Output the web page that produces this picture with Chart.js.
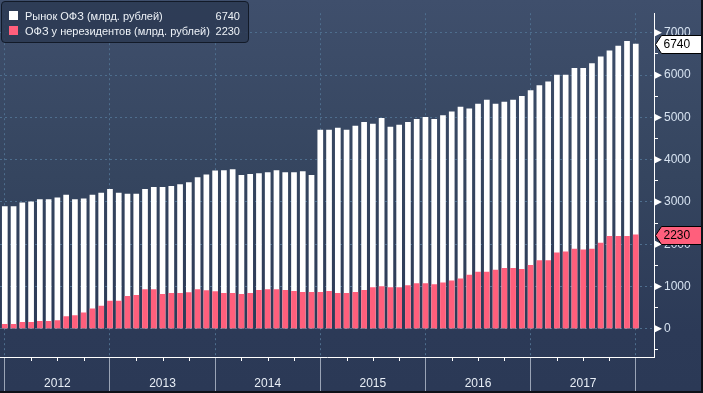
<!DOCTYPE html>
<html>
<head>
<meta charset="utf-8">
<script src="https://cdn.jsdelivr.net/npm/chart.js@4/dist/chart.umd.min.js"></script>
<style>
  html, body { margin: 0; padding: 0; background: #0e1118; }
  #wrap {
    position: relative; width: 701px; height: 391px;
    background: linear-gradient(to bottom, #3f4f6c 0%, #35455f 45%, #2c3a57 85%, #2b3956 100%);
  }
  #legend {
    position: absolute; left: 1px; top: 1px; width: 246px; height: 40px;
    border: 1px solid #121a28; border-radius: 4px;
    background: rgba(44, 57, 82, 0.85);
    font: 11px "Liberation Sans", Arial, sans-serif; color: #eef2f7;
  }
  .row { position: absolute; left: 0; right: 0; height: 14px; line-height: 14px; }
  .sw { position: absolute; left: 7px; top: 2px; width: 9px; height: 9px; }
  .lbl { position: absolute; left: 23px; }
  .val { position: absolute; right: 8px; }
</style>
</head>
<body>
<div id="wrap">
  <canvas id="chart" width="701" height="391"></canvas>
  <div id="legend"></div>
</div>
<script>
// --- Données ---
const seriesNames = ['Рынок ОФЗ (млрд. рублей)', 'ОФЗ у нерезидентов (млрд. рублей)'];
const seriesColors = ['#ffffff', '#ff5f7c'];
const years = ['2012', '2013', '2014', '2015', '2016', '2017'];

// fin de mois, déc. 2011 -> déc. 2017
const total = [
  2897, 2897, 2989, 3011, 3065, 3065, 3103, 3171, 3065, 3080, 3171, 3217,
  3308, 3217, 3194, 3194, 3308, 3354, 3354, 3376, 3422, 3468, 3582, 3650,
  3745, 3750, 3773, 3636, 3659, 3681, 3704, 3750, 3704, 3704, 3727, 3636,
  4710, 4710, 4756, 4710, 4802, 4893, 4848, 4985, 4779, 4825, 4893, 4962,
  5008, 4960, 5050, 5141, 5255, 5210, 5324, 5415, 5324, 5369, 5415, 5506,
  5644, 5758, 5849, 6009, 6009, 6169, 6169, 6283, 6443, 6580, 6694, 6809,
  6740
];
const nonres = [
  114, 114, 160, 160, 183, 183, 205, 297, 319, 388, 479, 548,
  662, 662, 776, 798, 935, 935, 821, 844, 844, 867, 935, 913,
  890, 846, 846, 823, 846, 915, 938, 938, 915, 892, 869, 869,
  869, 892, 846, 846, 869, 915, 983, 1006, 983, 983, 1029, 1075,
  1075, 1052, 1097, 1142, 1188, 1280, 1348, 1348, 1394, 1439, 1439, 1417,
  1508, 1622, 1622, 1805, 1828, 1896, 1874, 1896, 2034, 2193, 2193, 2193,
  2230
];

const yTicks = [-500, 0, 500, 1000, 1500, 2000, 2500, 3000, 3500, 4000, 4500, 5000, 5500, 6000, 6500, 7000];

const FONT = '"Liberation Sans", Arial, sans-serif';
const gridColor = '#4e6e8e';

// --- Légende ---
const legend = document.getElementById('legend');
[total, nonres].forEach((arr, i) => {
  const row = document.createElement('div');
  row.className = 'row';
  row.style.top = (7 + i * 15) + 'px';
  row.innerHTML = '<span class="sw" style="background:' + seriesColors[i] + '"></span>' +
    '<span class="lbl">' + seriesNames[i] + '</span>' +
    '<span class="val">' + arr[arr.length - 1] + '</span>';
  legend.appendChild(row);
});

// --- Décor : ticks trimestriels, flèches, étiquettes de dernière valeur ---
const decor = {
  id: 'decor',
  afterDraw(chart) {
    const { ctx, scales: { x, y } } = chart;
    ctx.save();
    ctx.strokeStyle = '#ffffff';
    ctx.lineWidth = 1;
    for (let i = 3; i < 72; i += 3) {
      if (i % 12 === 0) continue;
      const px = Math.round(x.getPixelForValue(i)) + 0.5;
      ctx.beginPath();
      ctx.moveTo(px, x.top);
      ctx.lineTo(px, x.top + 4);
      ctx.stroke();
    }
    ctx.fillStyle = '#ffffff';
    yTicks.filter(v => v % 1000 === 0).forEach(v => {
      const py = y.getPixelForValue(v);
      ctx.beginPath();
      ctx.moveTo(y.left + 1, py - 3.5);
      ctx.lineTo(y.left + 8, py);
      ctx.lineTo(y.left + 1, py + 3.5);
      ctx.closePath();
      ctx.fill();
    });
    chart.data.datasets.forEach(ds => {
      const v = ds.data[ds.data.length - 1].y;
      const py = Math.round(y.getPixelForValue(v)) + 0.5;
      const l = y.left + 1.5;
      ctx.beginPath();
      ctx.moveTo(l, py);
      ctx.lineTo(l + 6, py - 9);
      ctx.lineTo(chart.width + 2, py - 9);
      ctx.lineTo(chart.width + 2, py + 9);
      ctx.lineTo(l + 6, py + 9);
      ctx.closePath();
      ctx.fillStyle = ds.backgroundColor;
      ctx.fill();
      ctx.strokeStyle = '#000000';
      ctx.stroke();
      ctx.fillStyle = '#000000';
      ctx.font = '12px ' + FONT;
      ctx.textBaseline = 'middle';
      ctx.fillText(String(v), l + 8, py + 0.5);
    });
    ctx.restore();
  }
};

const ctx = document.getElementById('chart').getContext('2d');
new Chart(ctx, {
  type: 'bar',
  data: {
    datasets: [
      { label: seriesNames[0], data: total.map((v, i) => ({ x: i, y: v })), backgroundColor: seriesColors[0], order: 1 },
      { label: seriesNames[1], data: nonres.map((v, i) => ({ x: i, y: v })), backgroundColor: seriesColors[1], order: 0 }
    ]
  },
  options: {
    responsive: false,
    animation: false,
    layout: { padding: 0 },
    datasets: { bar: { grouped: false, barPercentage: 0.65, categoryPercentage: 1, borderWidth: 0 } },
    plugins: { legend: { display: false }, tooltip: { enabled: false } },
    scales: {
      x: {
        type: 'linear',
        offset: false,
        min: -0.548,
        max: 74.08,
        afterBuildTicks: s => {
          const t = [];
          for (let i = 0; i <= 72; i += 6) t.push({ value: i });
          s.ticks = t;
        },
        afterFit: s => { s.height = 34; },
        ticks: {
          autoSkip: false, maxRotation: 0, padding: -15,
          color: '#e8eef6', font: { family: FONT, size: 12 },
          callback: v => (v % 12 === 6 ? years[(v - 6) / 12] : '')
        },
        grid: {
          offset: false,
          color: c => (c.tick && c.tick.value % 12 === 0 ? gridColor : 'transparent'),
          tickColor: c => (c.tick && c.tick.value % 12 === 0 ? '#9aa4b6' : 'transparent'),
          tickLength: 34,
          lineWidth: 1
        },
        border: { display: true, color: '#ffffff', dash: [2, 3] }
      },
      y: {
        position: 'right',
        min: -667,
        max: 7465,
        afterBuildTicks: s => { s.ticks = yTicks.map(v => ({ value: v })); },
        afterFit: s => { s.width = 47; },
        ticks: {
          autoSkip: false, padding: 6,
          color: '#d6e2f0', font: { family: FONT, size: 12 },
          callback: v => (v % 1000 === 0 ? String(v) : '')
        },
        grid: {
          color: c => (c.tick && c.tick.value % 1000 === 0 ? gridColor : 'transparent'),
          tickColor: c => (c.tick && c.tick.value % 1000 === 0 ? 'transparent' : '#ffffff'),
          tickLength: 4
        },
        border: { display: true, color: '#ffffff', dash: [2, 3] }
      }
    }
  },
  plugins: [decor]
});
</script>
</body>
</html>
